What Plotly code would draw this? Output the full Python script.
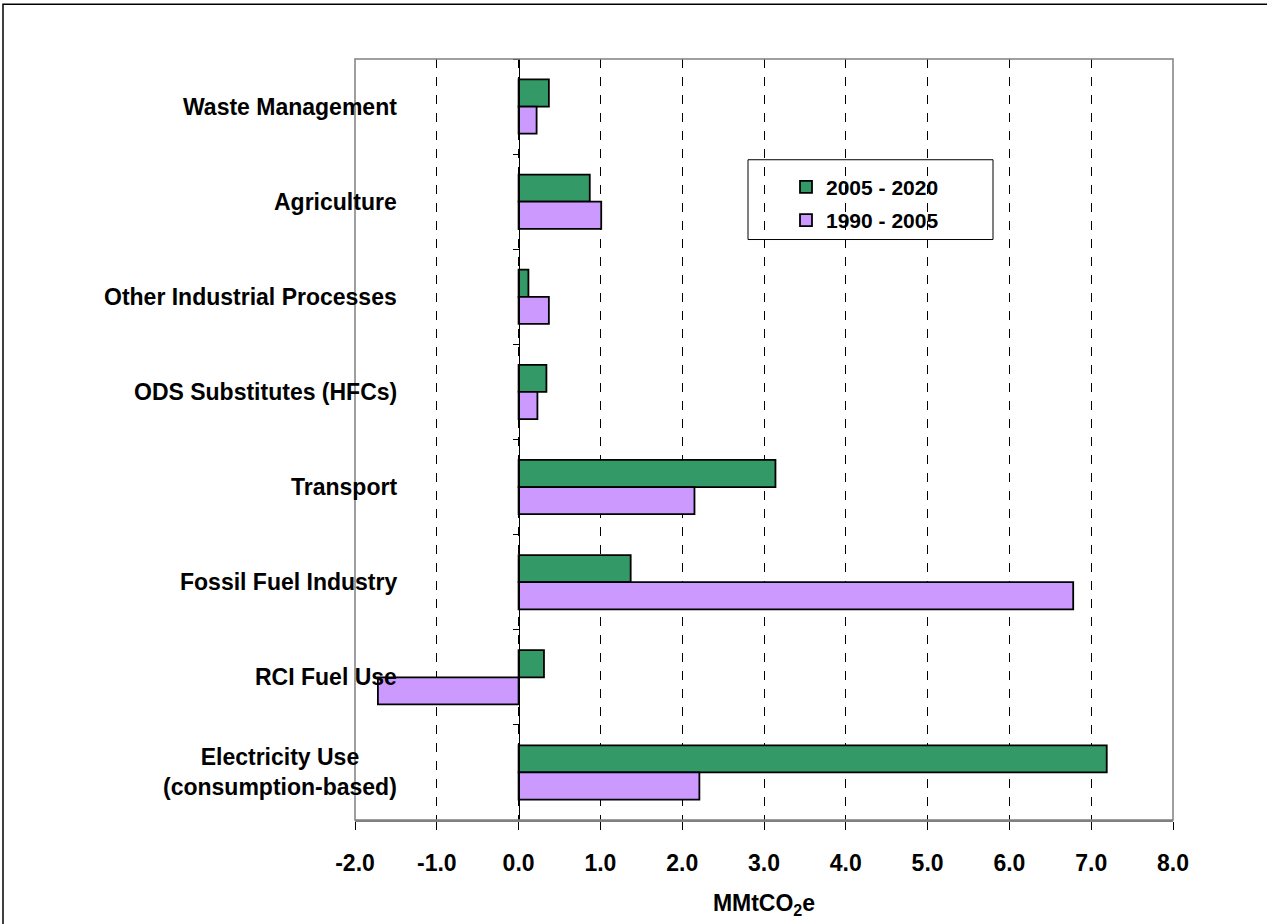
import plotly.graph_objects as go

categories = ["Waste Management", "Agriculture", "Other Industrial Processes",
              "ODS Substitutes (HFCs)", "Transport", "Fossil Fuel Industry",
              "RCI Fuel Use", "Electricity Use<br>(consumption-based)"]
series_2005_2020 = [0.37, 0.87, 0.12, 0.34, 3.14, 1.37, 0.31, 7.19]
series_1990_2005 = [0.22, 1.01, 0.37, 0.23, 2.15, 6.78, -1.72, 2.21]
x_ticks = [-2, -1, 0, 1, 2, 3, 4, 5, 6, 7, 8]
x_tick_labels = ["-2.0", "-1.0", "0.0", "1.0", "2.0", "3.0", "4.0", "5.0", "6.0", "7.0", "8.0"]

FONT = "Liberation Sans, Arial, sans-serif"
FS = 23
W, H = 1267, 924
L, R, T, B = 355, 94, 59, 102
pw, ph = W - L - R, H - T - B

def px_x(p):
    return (p - L) / pw

def px_y(p):
    return (H - B - p) / ph

bold = dict(family=FONT, size=FS, color="black", weight="bold")

fig = go.Figure()
fig.add_trace(go.Bar(
    y=categories, x=series_2005_2020, orientation="h", name="2005 - 2020",
    marker=dict(color="#339966", line=dict(color="black", width=1.8)),
    legendgroup="a"))
fig.add_trace(go.Bar(
    y=categories, x=series_1990_2005, orientation="h", name="1990 - 2005",
    marker=dict(color="#CC99FF", line=dict(color="black", width=1.8)),
    legendgroup="b"))

annotations = []
for c in categories:
    annotations.append(dict(
        text=c, xref="paper", yref="y", x=px_x(399), y=c, xanchor="right", yanchor="middle",
        align="center", showarrow=False, font=bold))

shapes = [
    dict(type="rect", xref="paper", yref="paper", x0=0, x1=1, y0=0, y1=1,
         line=dict(color="#808080", width=1.5), layer="above"),
    dict(type="rect", xref="paper", yref="paper", x0=px_x(748), x1=px_x(993),
         y0=px_y(240), y1=px_y(160), line=dict(color="black", width=1),
         fillcolor="white", layer="below"),
    dict(type="rect", xref="paper", yref="paper", x0=px_x(3), x1=px_x(1275),
         y0=px_y(932), y1=px_y(4), line=dict(color="black", width=1.5)),
]

fig.update_layout(
    width=W, height=H,
    margin=dict(l=L, r=R, t=T, b=B),
    paper_bgcolor="white", plot_bgcolor="white",
    barmode="group", bargap=0.43, bargroupgap=0,
    font=dict(family=FONT, size=FS, color="black"),
    showlegend=True,
    legend=dict(x=px_x(786), y=px_y(167), xanchor="left", yanchor="top",
                bgcolor="rgba(0,0,0,0)", borderwidth=0,
                traceorder="grouped", tracegroupgap=3,
                font=dict(family=FONT, size=21, color="black", weight="bold")),
    xaxis=dict(range=[-2, 8], tickmode="array", tickvals=x_ticks, ticktext=x_tick_labels,
               showgrid=True, gridcolor="black", griddash="dash", gridwidth=1,
               zeroline=False, showline=True, linecolor="#808080", linewidth=1.5,
               ticks="outside", ticklen=8, tickcolor="black", tickwidth=1,
               ticklabelstandoff=14, tickfont=bold,
               title=dict(text="MMtCO<sub>2</sub>e", standoff=20, font=bold)),
    yaxis=dict(autorange="reversed", type="category", anchor="free", position=px_x(519),
               showline=True, linecolor="black", linewidth=1,
               showgrid=False, zeroline=False, showticklabels=False,
               ticks="outside", tickson="boundaries", ticklen=6, tickcolor="black"),
    annotations=annotations,
    shapes=shapes,
)

fig.write_html("out.html", config={"displayModeBar": False},
               post_script="document.body.style.margin='0';")
